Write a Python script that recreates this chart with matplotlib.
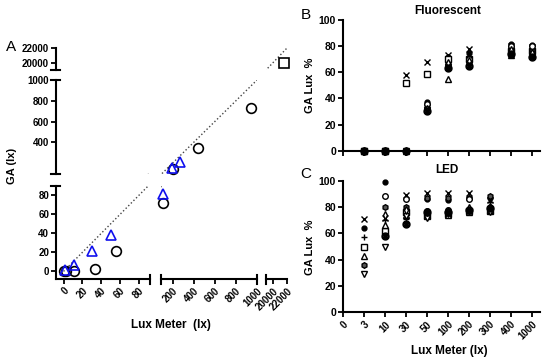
import numpy as np
import matplotlib
matplotlib.use("Agg")
import matplotlib.pyplot as plt
from matplotlib.lines import Line2D

plt.rcParams['font.family'] = ['Liberation Sans', 'DejaVu Sans']
plt.rcParams['font.weight'] = 'bold'

nan = np.nan

# ---- panel A data (lux meter vs GA) ----
circ_lux = [0, 3, 11, 33, 56, 112, 200, 442, 940]
circ_ga = [0, 0, 0, 3, 21, 72, 141, 343, 728]
tri_lux = [2, 11, 30, 50, 105, 195, 274]
tri_ga = [1, 7, 21, 38, 82, 150, 215]
sq_lux = [21500]
sq_ga = [19900]

# ---- panels B / C ----
categories = ['0', '3', '10', '30', '50', '100', '200', '300', '400', '1000']

fl_x      = [nan, 0, 0, 58, 68, 73, 78, nan, 80, 79]
fl_dot    = [nan, 0, 0, 0, 37, 72, 75, nan, 82, 81]
fl_plus   = [nan, 0, 0, 0, 35, 68, 72, nan, 78, 78]
fl_square = [nan, 0, 0, 52, 59, 70, 70, nan, 76, 76]
fl_tri    = [nan, 0, 0, 0, 34, 55, 68, nan, 73, 74]
fl_hex    = [nan, 0, 0, 0, 33, 66, 67, nan, 79, 77]
fl_vtri   = [nan, 0, 0, 0, 31, 64, 66, nan, 75, 73]
fl_circle = [nan, 0, 0, 0, 36, 65, 70, nan, 80, 80]
fl_diam   = [nan, 0, 0, 0, 32, 67, 69, nan, 77, 75]
fl_odot   = [nan, 0, 0, 0, 30, 63, 65, nan, 74, 72]

led_x      = [nan, 71, 72, 89, 91, 91, 91, 85, nan, nan]
led_dot    = [nan, 64, 99, 75, 86, 85, 87, 87, nan, nan]
led_plus   = [nan, 57, 70, 71, 75, 76, 78, 84, nan, nan]
led_square = [nan, 50, 62, 76, 73, 75, 77, 77, nan, nan]
led_tri    = [nan, 43, 66, 74, 74, 74, 76, 78, nan, nan]
led_hex    = [nan, 36, 80, 80, 87, 87, 87, 88, nan, nan]
led_vtri   = [nan, 29, 50, 73, 72, 75, 76, 76, nan, nan]
led_circle = [nan, nan, 88, 86, 77, 78, 86, 79, nan, nan]
led_diam   = [nan, nan, 74, 78, 76, 77, 79, 80, nan, nan]
led_odot   = [nan, nan, 58, 67, 76, 76, 78, 79, nan, nan]

# marker style for each series (same order in both panels)
styles = [
    dict(marker='x', mfc='none', mec='k'),
    dict(marker='o', mfc='k', mec='k', ms=3.5),
    dict(marker='+', mfc='none', mec='k'),
    dict(marker='s', mfc='white', mec='k'),
    dict(marker='^', mfc='white', mec='k'),
    dict(marker='h', mfc='#555555', mec='k'),
    dict(marker='v', mfc='white', mec='k'),
    dict(marker='o', mfc='white', mec='k'),
    dict(marker='d', mfc='white', mec='k'),
    dict(marker=r'$\odot$', mfc='k', mec='k', ms=5),
]
fluor = [fl_x, fl_dot, fl_plus, fl_square, fl_tri, fl_hex, fl_vtri, fl_circle, fl_diam, fl_odot]
led = [led_x, led_dot, led_plus, led_square, led_tri, led_hex, led_vtri, led_circle, led_diam, led_odot]

W, H = 550, 363
fig = plt.figure(figsize=(W / 100, H / 100), dpi=100)

SPW = 1.5
TICK = dict(direction='out', length=3.5, width=1.3, labelsize=7, pad=1.5)


def add_px(x0, x1, ytop, ybot):
    return fig.add_axes([x0 / W, 1 - ybot / H, (x1 - x0) / W, (ybot - ytop) / H])


def fig_line(xs, ys):
    fig.add_artist(Line2D([x / W for x in xs], [1 - y / H for y in ys],
                          transform=fig.transFigure, color='k', lw=SPW))


def in_cell(xs, ys, xl, yl):
    xs = np.asarray(xs, float)
    ys = np.asarray(ys, float)
    m = (xs >= xl[0]) & (xs <= xl[1]) & (ys >= yl[0]) & (ys <= yl[1])
    return xs[m], ys[m]


# ---------------- panel A: broken axes ----------------
cols = [(56, 150), (161, 257), (266, 287)]
xlims = [(-8, 92), (90, 1000), (19000, 22000)]
xtks = [[0, 20, 40, 60, 80], [200, 400, 600, 800, 1000], [20000, 22000]]
rows = [(186, 279), (80, 174), (48, 70)]
ylims = [(-8, 90), (95, 1000), (19000, 22000)]
ytks = [[0, 20, 40, 60, 80], [400, 600, 800, 1000], [20000, 22000]]

for i, (cx0, cx1) in enumerate(cols):
    for j, (ry0, ry1) in enumerate(rows):
        ax = add_px(cx0, cx1, ry0, ry1)
        ax.patch.set_visible(False)
        xl, yl = xlims[i], ylims[j]
        ax.plot([0, 22000], [0, 22000], ls=':', color='#444444', lw=1)
        cx, cy = in_cell(circ_lux, circ_ga, xl, yl)
        ax.plot(cx, cy, 'o', mfc='none', mec='k', ms=7, mew=1.2, clip_on=False)
        tx, ty = in_cell(tri_lux, tri_ga, xl, yl)
        ax.plot(tx, ty, '^', mfc='none', mec='#1010ee', ms=7, mew=1.2, clip_on=False)
        sx, sy = in_cell(sq_lux, sq_ga, xl, yl)
        ax.plot(sx, sy, 's', mfc='none', mec='k', ms=7, mew=1.2, clip_on=False)
        ax.set_xlim(*xl)
        ax.set_ylim(*yl)
        for s in ['top', 'right']:
            ax.spines[s].set_visible(False)
        ax.spines['left'].set_visible(i == 0)
        ax.spines['bottom'].set_visible(j == 0)
        ax.spines['left'].set_linewidth(SPW)
        ax.spines['bottom'].set_linewidth(SPW)
        ax.tick_params(**TICK)
        if i == 0:
            ax.set_yticks(ytks[j])
        else:
            ax.set_yticks([])
        if j == 0:
            ax.set_xticks(xtks[i])
            ax.set_xticklabels([str(v) for v in xtks[i]], rotation=45,
                               ha='right', rotation_mode='anchor')
        else:
            ax.set_xticks([])

# break caps on panel A axes
for y in [186, 174, 80, 70]:
    fig_line([51, 60], [y, y])
for x in [150, 161, 257, 266]:
    fig_line([x, x], [274.5, 283.5])

fig.text(11 / W, 1 - 47 / H, 'A', fontsize=11, fontweight='normal', ha='center', va='center')
fig.text(12 / W, 1 - 166 / H, 'GA (lx)', fontsize=8, rotation=90, ha='center', va='center')
fig.text(171 / W, 1 - 325 / H, 'Lux Meter  (lx)', fontsize=8.5, ha='center', va='center')

# ---------------- panels B and C ----------------
pos = np.arange(len(categories))


def scatter_panel(ax, series, show_labels):
    for vals, st in zip(series, styles):
        st = dict(st)
        ms = st.pop('ms', 4)
        ax.plot(pos, vals, ls='none', ms=ms, mew=1, clip_on=False, **st)
    ax.set_xlim(0, 9.4)
    ax.set_ylim(0, 100)
    ax.set_yticks([0, 20, 40, 60, 80, 100])
    ax.set_xticks(pos)
    if show_labels:
        ax.set_xticklabels(categories, rotation=45, ha='right', rotation_mode='anchor')
    else:
        ax.set_xticklabels([])
    for s in ['top', 'right']:
        ax.spines[s].set_visible(False)
    ax.spines['left'].set_linewidth(SPW)
    ax.spines['bottom'].set_linewidth(SPW)
    ax.tick_params(**TICK)
    ax.tick_params(axis='y', labelsize=7.5)


axB = add_px(343, 540, 20, 150.7)
scatter_panel(axB, fluor, False)
axC = add_px(343, 540, 180.7, 312.3)
scatter_panel(axC, led, True)

fig.text(306 / W, 1 - 15 / H, 'B', fontsize=11, fontweight='normal', ha='center', va='center')
fig.text(306 / W, 1 - 174 / H, 'C', fontsize=11, fontweight='normal', ha='center', va='center')
fig.text(448 / W, 1 - 10.5 / H, 'Fluorescent', fontsize=8.5, ha='center', va='center')
fig.text(447 / W, 1 - 170 / H, 'LED', fontsize=8.5, ha='center', va='center')
fig.text(310 / W, 1 - 85 / H, 'GA Lux  %', fontsize=8, rotation=90, ha='center', va='center')
fig.text(310 / W, 1 - 247 / H, 'GA Lux  %', fontsize=8, rotation=90, ha='center', va='center')
fig.text(449 / W, 1 - 351 / H, 'Lux Meter (lx)', fontsize=8.5, ha='center', va='center')

fig.savefig('out.png', dpi=100)
